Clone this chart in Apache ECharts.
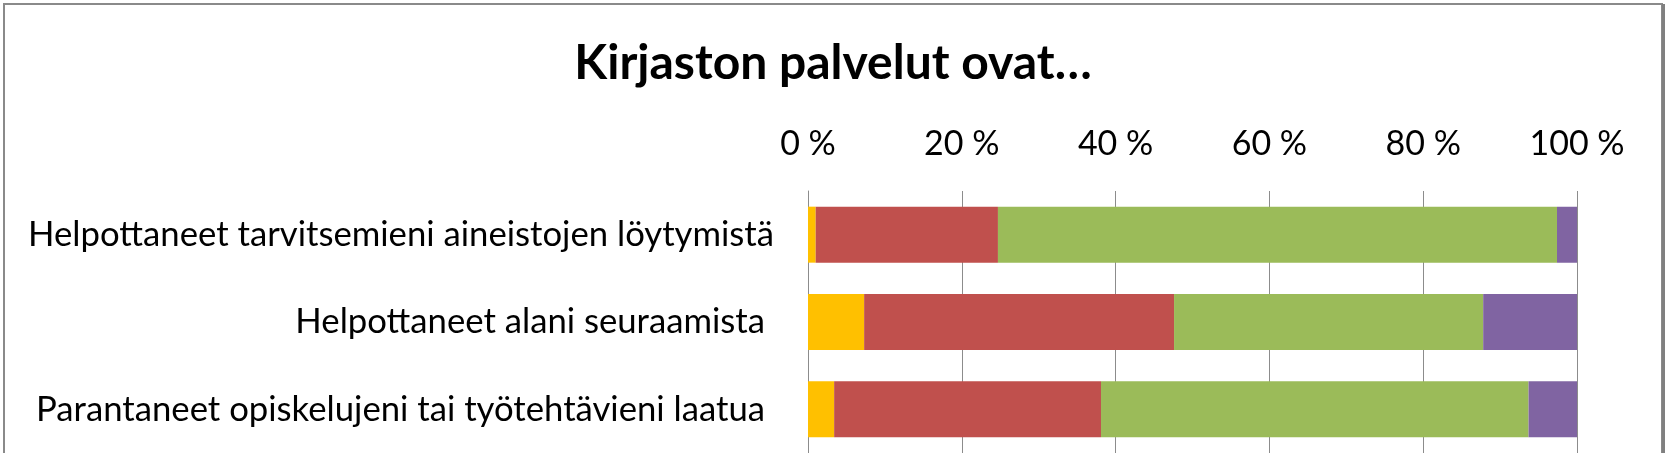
<!DOCTYPE html>
<html>
<head>
<meta charset="utf-8">
<script src="https://cdn.jsdelivr.net/npm/echarts@6/dist/echarts.min.js"></script>
<style>
html,body{margin:0;padding:0;background:#fff;overflow:hidden;}
#chart{position:absolute;left:0;top:0;width:1666px;height:453px;}
</style>
</head>
<body>
<div id="chart"></div>
<script>
const titleText = 'Kirjaston palvelut ovat…';
const categories = [
  'Helpottaneet tarvitsemieni aineistojen löytymistä',
  'Helpottaneet alani seuraamista',
  'Parantaneet opiskelujeni tai työtehtävieni laatua'
];
const seriesNames = ['Sarja 1', 'Sarja 2', 'Sarja 3', 'Sarja 4'];
const yellowValues = [1.0, 7.3, 3.4];
const redValues = [23.7, 40.3, 34.7];
const greenValues = [72.7, 40.2, 55.6];
const purpleValues = [2.6, 12.2, 6.3];
const tickValues = [0, 20, 40, 60, 80, 100];
const colors = ['#FFC000', '#C0504D', '#9BBB59', '#8064A2'];

const chart = echarts.init(document.getElementById('chart'), null, {renderer: 'canvas', width: 1666, height: 453});
const allValues = [yellowValues, redValues, greenValues, purpleValues];
const font = 'Lato, "Open Sans", sans-serif';
chart.setOption({
  animation: false,
  backgroundColor: '#fff',
  title: {
    text: titleText,
    left: 'center',
    top: 35,
    textStyle: {fontFamily: font, fontWeight: 'bold', fontSize: 48, color: '#000'}
  },
  graphic: [
    {type: 'rect', silent: true, z: 100,
     shape: {x: 4, y: 4, width: 1658, height: 520},
     style: {fill: 'none', stroke: '#8a8a8a', lineWidth: 2}},
    {type: 'line', silent: true, z: 100,
     shape: {x1: 1663.5, y1: 4, x2: 1663.5, y2: 453},
     style: {stroke: '#808080', lineWidth: 3}}
  ],
  grid: {left: 808, right: 89, top: 191, bottom: -29, containLabel: false},
  xAxis: {
    type: 'value',
    position: 'top',
    min: tickValues[0],
    max: tickValues[tickValues.length - 1],
    interval: 20,
    axisLine: {show: false},
    axisTick: {show: false},
    splitLine: {show: true, lineStyle: {color: '#8c8c8c', width: 1}},
    axisLabel: {
      formatter: '{value} %',
      margin: 30,
      fontFamily: font, fontSize: 34, color: '#000'
    }
  },
  yAxis: {
    type: 'category',
    inverse: true,
    data: categories,
    axisLine: {show: true, lineStyle: {color: '#8c8c8c', width: 1}},
    axisTick: {show: false},
    axisLabel: {
      margin: 34, fontFamily: font, fontSize: 34.7, color: '#000',
      formatter: (v, i) => i === 0 ? '{a|' + v + '}' : '{b|' + v + '}',
      rich: {
        a: {fontFamily: font, fontSize: 34.7, color: '#000'},
        b: {fontFamily: font, fontSize: 34.7, color: '#000', padding: [0, 9, 0, 0]}
      }
    }
  },
  series: allValues.map((vals, i) => ({
    name: seriesNames[i],
    type: 'bar',
    stack: 'total',
    barWidth: 56,
    data: vals,
    itemStyle: {color: colors[i]}
  }))
});
</script>
</body>
</html>
